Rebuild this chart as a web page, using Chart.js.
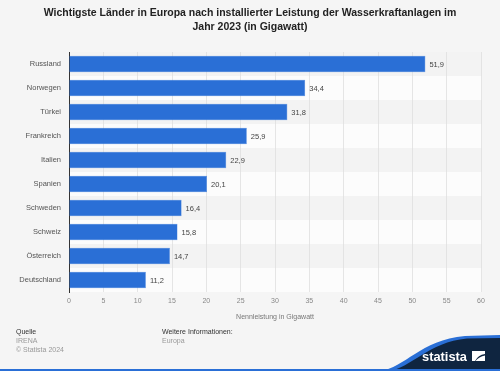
<!DOCTYPE html>
<html>
<head>
<meta charset="utf-8">
<script src="https://cdn.jsdelivr.net/npm/chart.js@4"></script>
<style>
html,body{margin:0;padding:0;background:#f5f5f5;}
#wrap{position:relative;width:500px;height:371px;overflow:hidden;background:#f5f5f5;font-family:"Liberation Sans",Arial,Helvetica,sans-serif;}
#c{position:absolute;left:0;top:0;}
.title{position:absolute;left:0;top:5px;width:500px;text-align:center;font-weight:bold;font-size:10.5px;line-height:14px;color:#222;}
.ft{position:absolute;font-size:7px;line-height:9px;color:#999;}
.ft b{color:#333;font-weight:normal;}
#logo{position:absolute;left:0;top:0;}
</style>
</head>
<body>
<div id="wrap">
<canvas id="c" width="500" height="371"></canvas>
<div class="title">Wichtigste Länder in Europa nach installierter Leistung der Wasserkraftanlagen im<br>Jahr 2023 (in Gigawatt)</div>
<div class="ft" style="left:16px;top:327px;"><b>Quelle</b><br>IRENA<br>© Statista 2024</div>
<div class="ft" style="left:162px;top:327px;"><b>Weitere Informationen:</b><br>Europa</div>
<svg id="logo" width="500" height="371" viewBox="0 0 500 371">
<path d="M380 371 C405 368 420 340 465 336 L500 335 L500 371 Z" fill="#2a6fd6"/>
<path d="M388 371 C412 368 428 342 467 338.5 L500 338 L500 371 Z" fill="#0f2540"/>
<rect x="0" y="369" width="500" height="2" fill="#2a6fd6"/>
<text x="422" y="361" font-family="Liberation Sans, Arial, sans-serif" font-size="12.5" font-weight="bold" fill="#ffffff" textLength="45" lengthAdjust="spacingAndGlyphs">statista</text>
<path d="M472 351 L485 351 L485 354 Q478 355 475 361 L472 361 Z M475.5 361 Q479 356.5 485 355.5 L485 361 Z" fill="#ffffff"/>
</svg>
</div>
<script>
const categories = ["Russland","Norwegen","Türkei","Frankreich","Italien","Spanien","Schweden","Schweiz","Österreich","Deutschland"];
const values = [51.9,34.4,31.8,25.9,22.9,20.1,16.4,15.8,14.7,11.2];
const xTicks = [0,5,10,15,20,25,30,35,40,45,50,55,60];
const axisTitle = "Nennleistung in Gigawatt";

const fmt = v => v.toFixed(1).replace('.', ',');

const bandPlugin = {
  id: 'bands',
  beforeDraw(chart) {
    const {ctx, chartArea, scales} = chart;
    const y = scales.y;
    ctx.save();
    categories.forEach((c, i) => {
      const yc = y.getPixelForValue(i);
      const h = (y.getPixelForValue(1) - y.getPixelForValue(0));
      ctx.fillStyle = (i % 2 === 1) ? '#fcfcfc' : '#f3f3f3';
      ctx.fillRect(chartArea.left, yc - h/2, chartArea.right - chartArea.left + 1, h);
    });
    ctx.restore();
  }
};

const labelPlugin = {
  id: 'valueLabels',
  afterDatasetsDraw(chart) {
    const {ctx} = chart;
    const meta = chart.getDatasetMeta(0);
    ctx.save();
    ctx.font = '7.5px "Liberation Sans", Arial, sans-serif';
    ctx.fillStyle = '#444';
    ctx.textBaseline = 'middle';
    ctx.textAlign = 'left';
    meta.data.forEach((bar, i) => {
      ctx.fillText(fmt(values[i]), bar.x + 4, bar.y + 0.5);
    });
    ctx.restore();
  }
};

new Chart(document.getElementById('c'), {
  type: 'bar',
  data: {
    labels: categories,
    datasets: [{
      data: values,
      backgroundColor: '#2a6fd6',
      borderColor: '#4a86e0',
      borderWidth: 0.5,
      barPercentage: 0.68,
      categoryPercentage: 1.0
    }]
  },
  options: {
    indexAxis: 'y',
    responsive: false,
    animation: false,
    devicePixelRatio: 1,
    layout: { padding: { top: 52, right: 19, bottom: 46, left: 0 } },
    plugins: { legend: { display: false }, tooltip: { enabled: false }, title: { display: false } },
    scales: {
      x: {
        min: 0, max: 60,
        afterBuildTicks(s) { s.ticks = xTicks.map(v => ({ value: v })); },
        afterFit(s) { s.height = 33; },
        grid: { color: '#dedede', drawTicks: false, lineWidth: 0.8 },
        border: { display: false },
        ticks: { font: { size: 7, family: '"Liberation Sans", Arial, sans-serif' }, color: '#888', padding: 5, maxRotation: 0 },
        title: { display: true, text: axisTitle, color: '#777', font: { size: 7, family: '"Liberation Sans", Arial, sans-serif' }, padding: { top: 4, bottom: 4 } }
      },
      y: {
        afterFit(s) { s.width = 69; },
        grid: { display: false, drawTicks: false },
        border: { display: true, color: '#333', width: 1 },
        ticks: { font: { size: 7.5, family: '"Liberation Sans", Arial, sans-serif' }, color: '#555', padding: 8 }
      }
    }
  },
  plugins: [bandPlugin, labelPlugin]
});
</script>
</body>
</html>
